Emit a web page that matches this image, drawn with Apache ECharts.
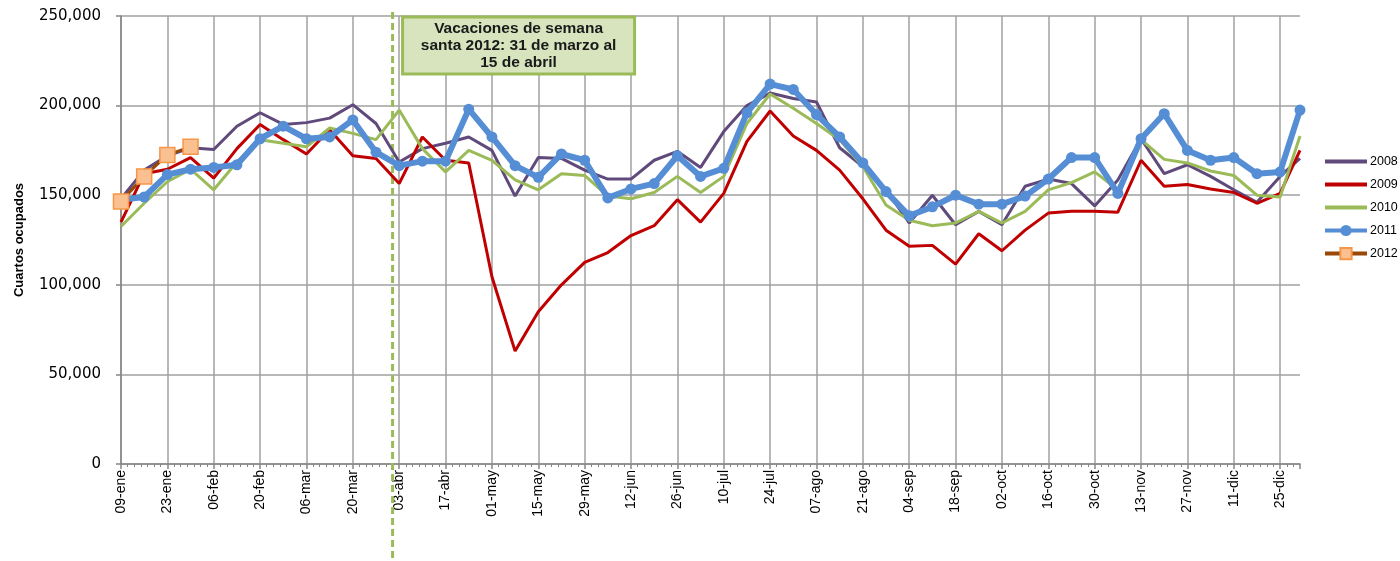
<!DOCTYPE html>
<html><head><meta charset="utf-8">
<script src="https://cdn.jsdelivr.net/npm/echarts@6/dist/echarts.min.js"></script>
<style>html,body{margin:0;padding:0;background:#fff}#c{width:1400px;height:561px}</style>
</head><body><div id="c"></div>
<script>
// ---- data ----
const axisStart = '2011-01-09';
const axisEnd = '2011-12-31';
const weekDates = [
 '2011-01-09','2011-01-16','2011-01-23','2011-01-30','2011-02-06','2011-02-13','2011-02-20','2011-02-27',
 '2011-03-06','2011-03-13','2011-03-20','2011-03-27','2011-04-03','2011-04-10','2011-04-17','2011-04-24',
 '2011-05-01','2011-05-08','2011-05-15','2011-05-22','2011-05-29','2011-06-05','2011-06-12','2011-06-19',
 '2011-06-26','2011-07-03','2011-07-10','2011-07-17','2011-07-24','2011-07-31','2011-08-07','2011-08-14',
 '2011-08-21','2011-08-28','2011-09-04','2011-09-11','2011-09-18','2011-09-25','2011-10-02','2011-10-09',
 '2011-10-16','2011-10-23','2011-10-30','2011-11-06','2011-11-13','2011-11-20','2011-11-27','2011-12-04',
 '2011-12-11','2011-12-18','2011-12-25','2011-12-31'
];
const monthsEs = ['ene','feb','mar','abr','may','jun','jul','ago','sep','oct','nov','dic'];
const seriesNames = ['2008','2009','2010','2011','2012'];
const s2008 = [148000,164000,172000,176500,175500,188500,196000,189500,190500,193000,200500,190000,168500,176000,179000,182500,
 175000,149500,171000,170500,164000,159000,159000,169500,174500,165500,185500,200000,207000,204000,202000,176500,
 166000,153000,134500,150000,133500,141000,133500,155000,159000,156500,144000,158500,181500,162000,167000,160500,
 153000,146000,160500,170500];
const s2009 = [135000,162000,164500,171000,159500,176000,189500,181000,173000,186500,172000,170500,156500,182500,169500,168000,
 104500,63000,85000,100000,112500,118000,127500,133000,147500,135000,151000,180000,197000,183000,175000,164000,
 148000,130500,121500,122000,111500,128500,119000,130500,140000,141000,141000,140500,169500,155000,156000,153500,
 151500,145500,151000,175000];
const s2010 = [132500,145500,157500,164500,153000,168500,181000,179000,177000,187500,184500,181000,197500,176000,163000,175000,
 169500,158500,153000,162000,161000,149500,148000,151500,160500,151500,160500,190000,206500,198500,190000,181000,
 166000,144500,136000,133000,134500,141000,134500,141000,153000,157000,163000,153000,181000,170000,168000,163500,
 161000,150000,149000,183000];
const s2011 = [147500,149000,161500,164500,165500,167000,181500,188500,181500,182500,192000,174000,166500,169000,169000,198000,
 182500,166500,160000,173000,169500,148500,153500,156500,172000,160500,165000,196000,212000,209000,195000,182500,
 168000,152000,138500,143500,150000,145000,145000,149500,159000,171000,171000,151000,181500,195500,175000,169500,
 171000,162000,163000,197500];
const s2012 = [146500,160500,172500,177000];
const yMin = 0, yMax = 250000, yStep = 50000;
const holidayDate = '2011-04-01';
const noteText = 'Vacaciones de semana\nsanta 2012: 31 de marzo al\n15 de abril';
const yName = 'Cuartos ocupados';

// ---- helpers ----
const DAY = 86400000;
const dayOf = d => Math.round((Date.parse(d) - Date.parse(axisStart)) / DAY);
const xDays = weekDates.map(dayOf);
const pairs = arr => arr.map((v, i) => [xDays[i], v]);
const fmtDay = v => {
  const d = new Date(Date.parse(axisStart) + v * DAY);
  const dd = String(d.getUTCDate()).padStart(2, '0');
  return dd + '-' + monthsEs[d.getUTCMonth()];
};

const chart = echarts.init(document.getElementById('c'), null, {renderer: 'canvas'});
const gridGray = '#A0A0A0';
const clear = 'rgba(0,0,0,0)';
const option = {
  animation: false,
  backgroundColor: '#fff',
  grid: {left: 121, right: 100, top: 16, bottom: 97, containLabel: false},
  legend: {
    orient: 'vertical', left: 1323, top: 155, padding: 0, itemWidth: 42, itemHeight: 14, itemGap: 10,
    lineStyle: {width: 4},
    textStyle: {fontFamily: 'Liberation Sans', fontSize: 12.5, color: '#000', padding: [0, 0, 0, -2]},
    data: seriesNames
  },
  xAxis: {
    type: 'value', min: 0, max: dayOf(axisEnd), interval: 14,
    axisLine: {show: true, lineStyle: {color: '#868686', width: 1.5}},
    axisTick: {show: true, length: 5, lineStyle: {color: '#868686', width: 1.5}},
    minorTick: {show: true, splitNumber: 7, length: 3, lineStyle: {color: '#868686'}},
    splitLine: {show: true, showMaxLine: false, lineStyle: {color: gridGray, width: 1.5}},
    axisLabel: {
      rotate: 90, margin: 6, fontFamily: 'Liberation Sans', fontSize: 14, color: '#000',
      formatter: v => (v % 14 === 0 ? fmtDay(v) : '')
    }
  },
  yAxis: {
    type: 'value', min: yMin, max: yMax, interval: yStep,
    name: yName, nameLocation: 'middle', nameRotate: 90, nameGap: 95,
    nameTextStyle: {fontFamily: 'Liberation Sans', fontWeight: 'bold', fontSize: 13, color: '#000'},
    axisLine: {show: true, lineStyle: {color: '#868686', width: 1.5}},
    axisTick: {show: true, length: 5, lineStyle: {color: '#868686', width: 1.5}},
    splitLine: {show: true, lineStyle: {color: gridGray, width: 1.5}},
    axisLabel: {
      margin: 20, fontFamily: 'DejaVu Sans', fontSize: 15, color: '#000',
      formatter: v => v.toLocaleString('en-US')
    }
  },
  series: [
    {name: '2008', type: 'line', data: pairs(s2008), symbol: 'none', lineStyle: {color: '#604A7B', width: 3}, itemStyle: {color: clear}, z: 2},
    {name: '2009', type: 'line', data: pairs(s2009), symbol: 'none', lineStyle: {color: '#C00000', width: 3}, itemStyle: {color: clear}, z: 3},
    {name: '2010', type: 'line', data: pairs(s2010), symbol: 'none', lineStyle: {color: '#9BBB59', width: 3}, itemStyle: {color: clear}, z: 4},
    {name: '2011', type: 'line', data: pairs(s2011), symbol: 'circle', symbolSize: 11, showSymbol: true,
     lineStyle: {color: '#558ED5', width: 6}, itemStyle: {color: '#558ED5'}, z: 5},
    {name: '2012', type: 'line', data: pairs(s2012), symbol: 'rect', symbolSize: 15, showSymbol: true,
     lineStyle: {color: '#984807', width: 3}, itemStyle: {color: '#FAC090', borderColor: '#F79646', borderWidth: 1.5}, z: 6}
  ]
};
chart.setOption(option);

// annotation: dashed line at holiday date + note box
const lx = chart.convertToPixel({xAxisIndex: 0}, dayOf(holidayDate));
const topY = chart.convertToPixel({yAxisIndex: 0}, yMax);
chart.setOption({
  graphic: [
    {type: 'line', z: 1, shape: {x1: lx, y1: topY - 4, x2: lx, y2: 561},
     style: {stroke: '#9BBB59', lineWidth: 3, lineDash: [7, 4]}},
    {type: 'rect', z: 10, shape: {x: lx + 10, y: topY + 1, width: 232, height: 57},
     style: {fill: '#D7E4BD', stroke: '#9BBB59', lineWidth: 3}},
    {type: 'text', z: 11, x: lx + 126, y: topY + 30,
     style: {text: noteText, align: 'center', verticalAlign: 'middle', fill: '#1a1a1a',
       font: 'bold 15.5px "Liberation Sans"', lineHeight: 17}}
  ]
});
</script></body></html>
